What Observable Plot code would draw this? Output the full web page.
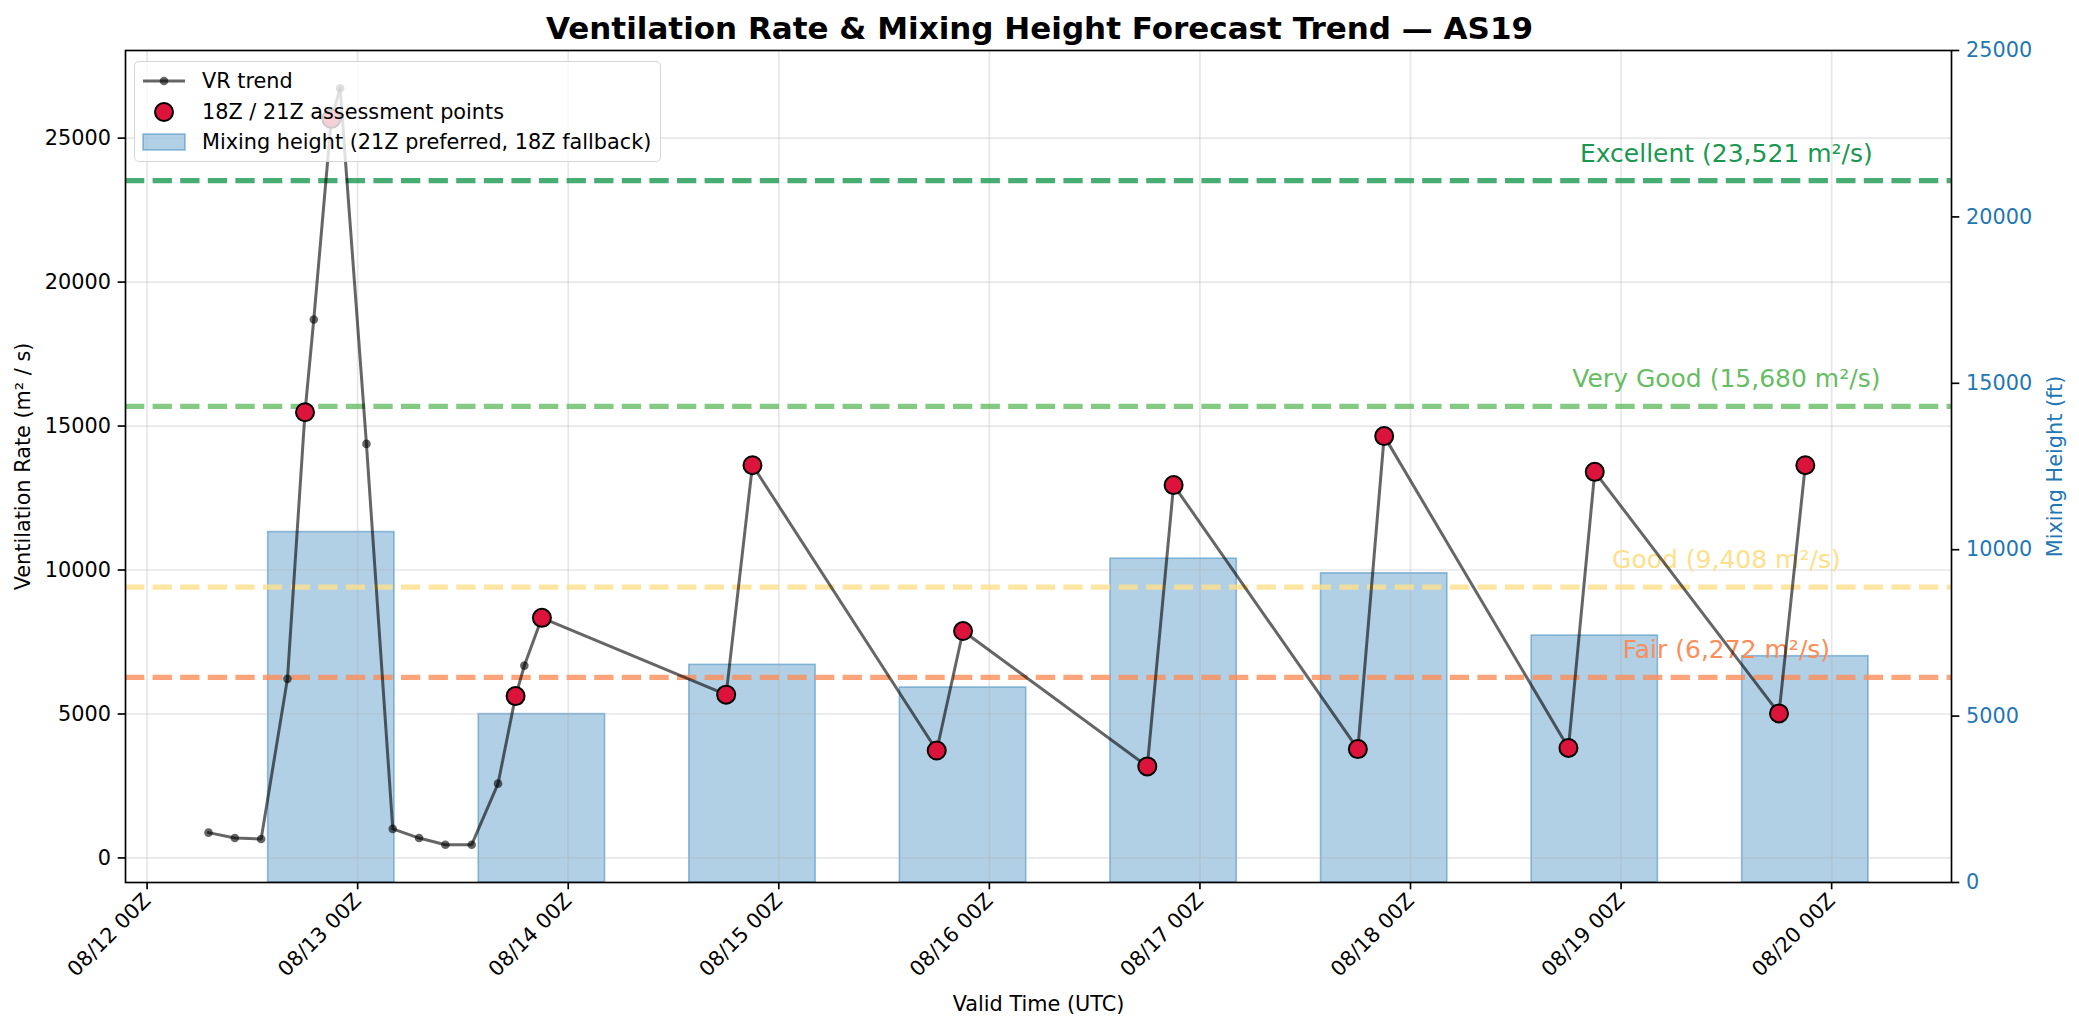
<!DOCTYPE html>
<html>
<head>
<meta charset="utf-8">
<script src="https://cdn.jsdelivr.net/npm/d3@7"></script>
<script src="https://cdn.jsdelivr.net/npm/@observablehq/plot@0.6"></script>
<style>
  html, body { margin: 0; padding: 0; background: #fff; }
  #wrap { position: relative; width: 2079px; height: 1032px; font-family: "DejaVu Sans", sans-serif; overflow: hidden; }
  #title { height: 44px; line-height: 57px; text-align: center; font-weight: bold; font-size: 31px; white-space: nowrap; color: #000; }
  #legend { position: absolute; left: 134px; top: 61px; width: 527px; height: 101px; box-sizing: border-box;
            background: rgba(255,255,255,0.8); border: 1.6px solid rgba(204,204,204,0.8); border-radius: 5px; }
  .row { position: absolute; left: 0; height: 30px; width: 100%; }
  .row svg { position: absolute; left: 7px; top: 0; }
  .row span { position: absolute; left: 67px; top: 0; line-height: 30px; font-size: 20.8px; color: #000; white-space: nowrap; }
</style>
</head>
<body>
<div id="wrap">
  <div id="title">Ventilation Rate &amp; Mixing Height Forecast Trend — AS19</div>
  <div id="chart"></div>
  <div id="legend">
    <div class="row" style="top:4px">
      <svg width="44" height="30"><line x1="1" y1="15" x2="43" y2="15" stroke="black" stroke-opacity="0.6" stroke-width="3"/><circle cx="22" cy="15" r="4.3" fill="black" fill-opacity="0.6"/></svg>
      <span>VR trend</span>
    </div>
    <div class="row" style="top:34.5px">
      <svg width="44" height="30"><circle cx="22" cy="15" r="9" fill="#dc143c" stroke="black" stroke-width="2"/></svg>
      <span>18Z / 21Z assessment points</span>
    </div>
    <div class="row" style="top:65px">
      <svg width="44" height="30"><rect x="1" y="7" width="42" height="16" fill="#1f77b4" fill-opacity="0.35" stroke="#1f77b4" stroke-opacity="0.45" stroke-width="1.6"/></svg>
      <span>Mixing height (21Z preferred, 18Z fallback)</span>
    </div>
  </div>
</div>
<script>
// ---- Data ----
const vrTimes = [
  "2025-08-12T07:00Z","2025-08-12T10:00Z","2025-08-12T13:00Z","2025-08-12T16:00Z",
  "2025-08-12T18:00Z","2025-08-12T19:00Z","2025-08-12T21:00Z","2025-08-12T22:00Z",
  "2025-08-13T01:00Z","2025-08-13T04:00Z","2025-08-13T07:00Z","2025-08-13T10:00Z",
  "2025-08-13T13:00Z","2025-08-13T16:00Z","2025-08-13T18:00Z","2025-08-13T19:00Z",
  "2025-08-13T21:00Z",
  "2025-08-14T18:00Z","2025-08-14T21:00Z",
  "2025-08-15T18:00Z","2025-08-15T21:00Z",
  "2025-08-16T18:00Z","2025-08-16T21:00Z",
  "2025-08-17T18:00Z","2025-08-17T21:00Z",
  "2025-08-18T18:00Z","2025-08-18T21:00Z",
  "2025-08-19T18:00Z","2025-08-19T21:00Z"
];
const vrValues = [
  880, 690, 660, 6220,
  15480, 18700, 25670, 26730,
  14380, 1010, 690, 460,
  460, 2580, 5620, 6680,
  8340,
  5670, 13640,
  3730, 7880,
  3180, 12950,
  3780, 14650,
  3820, 13410,
  5020, 13640
];
const assessTimes = [
  "2025-08-12T18:00Z","2025-08-12T21:00Z",
  "2025-08-13T18:00Z","2025-08-13T21:00Z",
  "2025-08-14T18:00Z","2025-08-14T21:00Z",
  "2025-08-15T18:00Z","2025-08-15T21:00Z",
  "2025-08-16T18:00Z","2025-08-16T21:00Z",
  "2025-08-17T18:00Z","2025-08-17T21:00Z",
  "2025-08-18T18:00Z","2025-08-18T21:00Z",
  "2025-08-19T18:00Z","2025-08-19T21:00Z"
];
const assessValues = [15480, 25670, 5620, 8340, 5670, 13640, 3730, 7880, 3180, 12950, 3780, 14650, 3820, 13410, 5020, 13640];
const mixTimes = [
  "2025-08-12T21:00Z","2025-08-13T21:00Z","2025-08-14T21:00Z","2025-08-15T21:00Z",
  "2025-08-16T21:00Z","2025-08-17T21:00Z","2025-08-18T21:00Z","2025-08-19T21:00Z"
];
const mixHeights = [10530, 5060, 6540, 5860, 9730, 9290, 7420, 6800];
const thresholdNames = ["Excellent", "Very Good", "Good", "Fair"];
const thresholdValues = [23521, 15680, 9408, 6272];
const thresholdColors = ["#1a9850", "#66bd63", "#fee08b", "#fc8d59"];
const thresholdLabelTime = "2025-08-19T12:00Z";
const xTickDays = ["2025-08-12","2025-08-13","2025-08-14","2025-08-15","2025-08-16","2025-08-17","2025-08-18","2025-08-19","2025-08-20"];
const leftTicks = [0, 5000, 10000, 15000, 20000, 25000];
const rightTicks = [0, 5000, 10000, 15000, 20000, 25000];

// ---- Scales ----
const Y0 = -853, Y1 = 28043;      // left axis (ventilation rate)
const H0 = 0, H1 = 25000;         // right axis (mixing height)
const toLeft = h => Y0 + (h - H0) / (H1 - H0) * (Y1 - Y0);
const fromLeft = v => H0 + (v - Y0) / (Y1 - Y0) * (H1 - H0);
const xDomain = [new Date("2025-08-11T21:32:24Z"), new Date("2025-08-20T13:39:36Z")];
const BAR_HALF = 0.3 * 864e5;

const vr = vrTimes.map((t, i) => ({t: new Date(t), v: vrValues[i]}));
const assess = assessTimes.map((t, i) => ({t: new Date(t), v: assessValues[i]}));
const bars = mixTimes.map((t, i) => ({c: new Date(t), h: mixHeights[i]}));
const thresholds = thresholdNames.map((n, i) => ({
  v: thresholdValues[i], c: thresholdColors[i],
  label: `${n} (${d3.format(",")(thresholdValues[i])} m²/s)`
}));
const xTicks = xTickDays.map(d => new Date(d + "T00:00Z"));
const fmtX = d3.utcFormat("%m/%d %HZ");

const chart = Plot.plot({
  width: 2079,
  height: 988,
  marginTop: 6,
  marginBottom: 150,
  marginLeft: 125,
  marginRight: 128,
  style: {fontFamily: "DejaVu Sans", fontSize: "20.8px", background: "white", color: "black", overflow: "visible"},
  x: {type: "utc", domain: xDomain},
  y: {domain: [Y0, Y1]},
  color: {type: "identity"},
  marks: [
    Plot.rect(bars, {
      x1: d => new Date(+d.c - BAR_HALF), x2: d => new Date(+d.c + BAR_HALF),
      y1: () => toLeft(0), y2: d => toLeft(d.h),
      fill: "#1f77b4", fillOpacity: 0.35, stroke: "#1f77b4", strokeOpacity: 0.45, strokeWidth: 1.6
    }),
    Plot.gridX(xTicks, {stroke: "#b0b0b0", strokeOpacity: 0.3, strokeWidth: 1.67}),
    Plot.gridY(leftTicks, {stroke: "#b0b0b0", strokeOpacity: 0.3, strokeWidth: 1.67}),
    Plot.ruleY(thresholds, {y: "v", stroke: "c", strokeOpacity: 0.8, strokeWidth: 5.2, strokeDasharray: "19.3,8.3"}),
    Plot.text(thresholds, {
      x: () => new Date(thresholdLabelTime), y: "v", text: "label", fill: "c",
      fontSize: 25, textAnchor: "middle", lineAnchor: "middle", dy: -27
    }),
    Plot.line(vr, {x: "t", y: "v", stroke: "black", strokeOpacity: 0.6, strokeWidth: 3}),
    Plot.dot(vr, {x: "t", y: "v", r: 4.3, fill: "black", fillOpacity: 0.6, stroke: null}),
    Plot.dot(assess, {x: "t", y: "v", r: 9, fill: "#dc143c", stroke: "black", strokeWidth: 2}),
    Plot.frame({stroke: "black", strokeWidth: 1.67}),
    Plot.axisX(xTicks, {
      tickFormat: fmtX, tickRotate: -45, tickSize: 7.3, tickPadding: 7.3, strokeWidth: 1.67,
      label: "Valid Time (UTC)", labelAnchor: "center", labelArrow: "none", labelOffset: 128
    }),
    Plot.axisY(leftTicks, {
      anchor: "left", tickSize: 7.3, tickPadding: 7.3, strokeWidth: 1.67, tickFormat: d => String(d),
      label: "Ventilation Rate (m² / s)", labelAnchor: "center", labelArrow: "none", labelOffset: 110
    }),
    Plot.axisY(rightTicks.map(toLeft), {
      anchor: "right", tickSize: 7.3, tickPadding: 7.3, strokeWidth: 1.67,
      tickFormat: v => String(Math.round(fromLeft(v))),
      stroke: "black", fill: "#1f77b4",
      label: "Mixing Height (ft)", labelAnchor: "center", labelArrow: "none", labelOffset: 110
    })
  ]
});
document.getElementById("chart").appendChild(chart);
</script>
</body>
</html>
